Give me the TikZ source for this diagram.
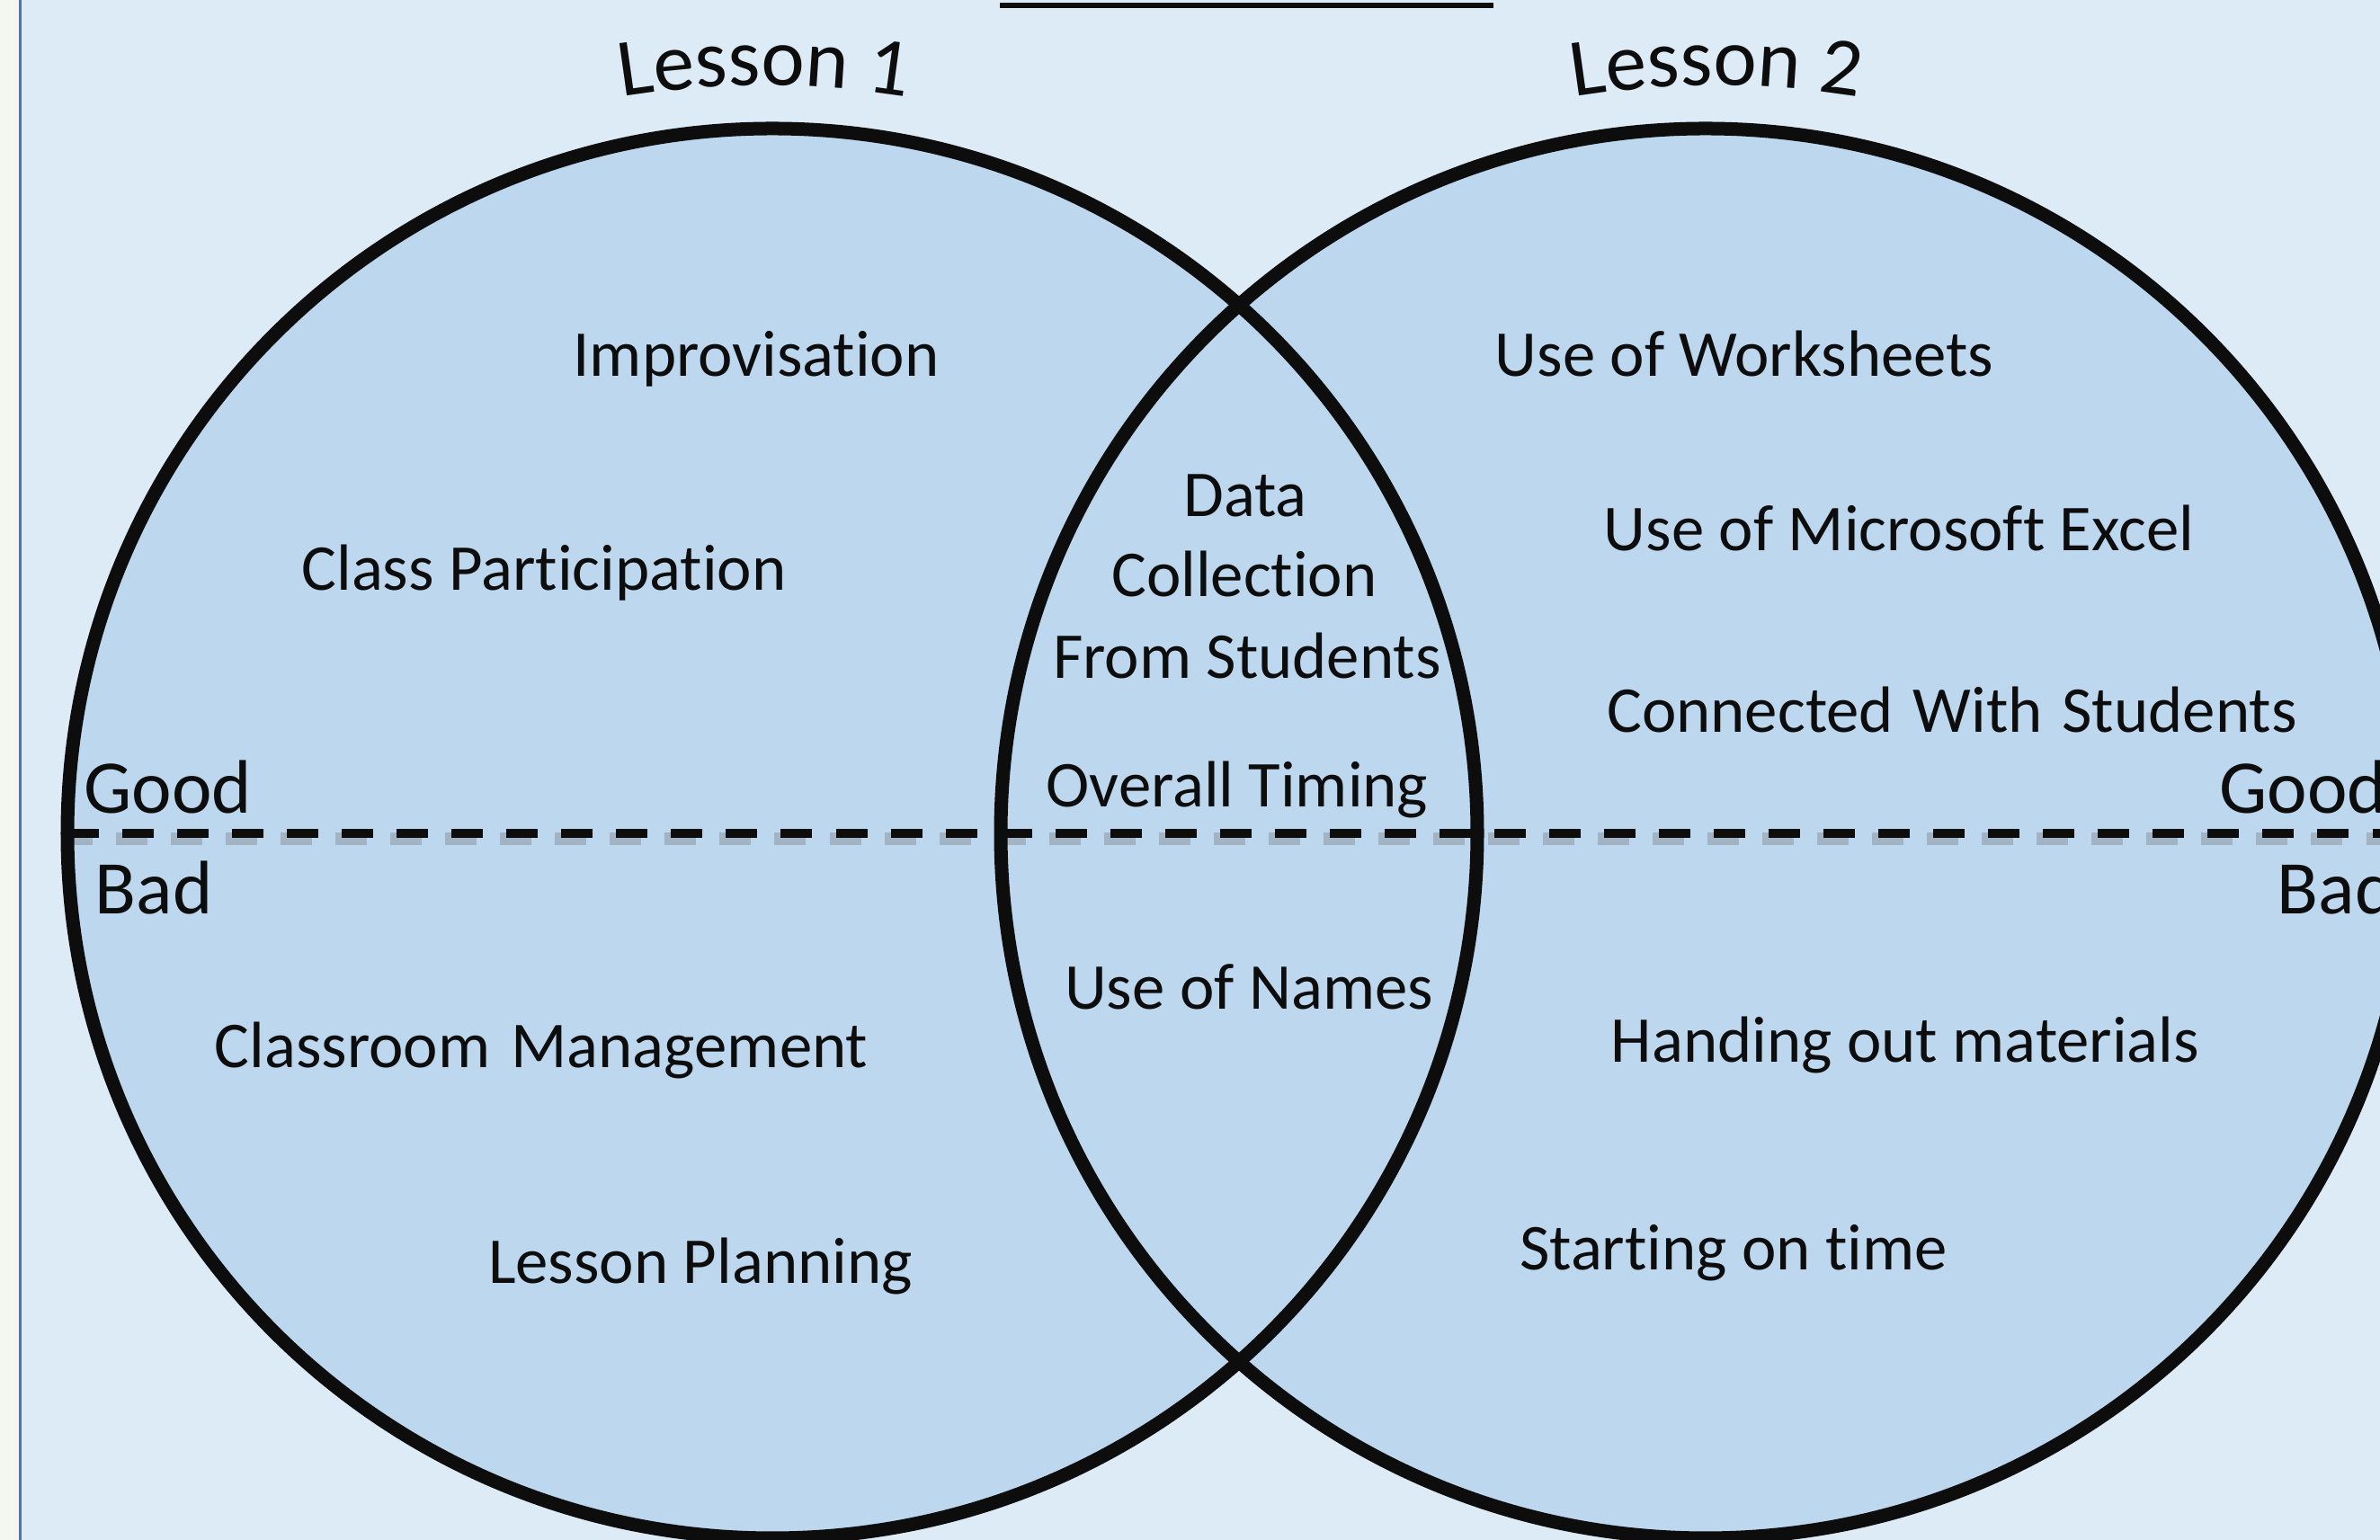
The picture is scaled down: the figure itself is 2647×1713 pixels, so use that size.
\documentclass[tikz,border=0pt]{standalone}
\usepackage{fontspec}
\setmainfont{Carlito}[Ligatures=CommonOff]
\usetikzlibrary{decorations.text}
\definecolor{bgblue}{RGB}{221,235,247}
\definecolor{circblue}{RGB}{189,215,238}
\definecolor{stripcol}{RGB}{243,247,239}
\definecolor{edgeblue}{RGB}{68,114,196}
\definecolor{ink}{RGB}{13,13,13}
\begin{document}
\begin{tikzpicture}[x=0.01cm,y=0.01cm,
  lbl/.style={inner sep=0pt, anchor=base, text=ink, font=\fontsize{20.7}{24}\selectfont},
  gb/.style={inner sep=0pt, anchor=base west, text=ink, font=\fontsize{24}{28}\selectfont},
  ring/.style={draw=ink, line width=0.15cm},
  dashline/.style={draw=ink, line width=0.1cm, dash pattern=on 0.35cm off 0.26cm},
  dashshadow/.style={draw=black!60, opacity=0.3, line width=0.14cm, dash pattern=on 0.35cm off 0.26cm}]
\useasboundingbox (0,0) rectangle (2647,1713);
\fill[bgblue] (0,0) rectangle (2647,1713);
\fill[stripcol] (0,0) rectangle (21,1713);
\fill[edgeblue] (21,0) rectangle (23.5,1713);
\coordinate (cL) at (859,786);
\coordinate (cR) at (1897,786);
\coordinate (dStart) at (75,786);
\coordinate (dEnd) at (2647,786);
\coordinate (sStart) at (68,780);
\coordinate (sEnd) at (2647,780);
\begin{scope}
\clip (23.5,0) rectangle (2647,1713);
\fill[circblue] (cL) circle[radius=784];
\fill[circblue] (cR) circle[radius=784];
\draw[dashshadow] (sStart) -- (sEnd);
\draw[dashline] (dStart) -- (dEnd);
\draw[ring] (cL) circle[radius=784];
\draw[ring] (cR) circle[radius=784];
\end{scope}
% title underline
\coordinate (tA) at (1112,1707);
\coordinate (tB) at (1661,1707);
\draw[ink, line width=0.065cm] (tA) -- (tB);
% arched headings
\path[decorate, decoration={text along path, text align=center,
  text={|\fontsize{26}{30}\selectfont\color{ink}|Lesson 1}}]
  (850,618) ++(110:1000) arc[start angle=110, end angle=70, radius=1000];
\path[decorate, decoration={text along path, text align=center,
  text={|\fontsize{26}{30}\selectfont\color{ink}|Lesson 2}}]
  (1909,618) ++(110:1000) arc[start angle=110, end angle=70, radius=1000];
% left circle
\node[lbl] (impro) at (841,1294) {Improvisation};
\node[lbl] (classp) at (605,1056) {Class Participation};
\node[gb] (goodL) at (93,808) {Good};
\node[gb] (badL) at (105,696) {Bad};
\node[lbl] (classm) at (602,525) {Classroom\hspace{2pt} Management};
\node[lbl] (lplan) at (779,285) {Lesson Planning};
% overlap
\node[lbl] (dataA) at (1385,1138) {Data};
\node[lbl] (dataB) at (1384,1049) {Collection};
\node[lbl] (dataC) at (1387,958) {From Students};
\node[lbl] (overall) at (1376,815) {Overall Timing};
\node[lbl] (names) at (1389,590) {Use of Names};
% right circle
\node[lbl] (works) at (1940,1294) {Use of Worksheets};
\node[lbl] (excel) at (2112,1100) {Use of Microsoft Excel};
\node[lbl] (conn) at (2171,898) {Connected\hspace{1.5pt} With\hspace{1.5pt} Students};
\node[gb] (goodR) at (2468,808) {Good};
\node[gb] (badR) at (2532,696) {Bad};
\node[lbl] (hand) at (2119,531) {Handing out materials};
\node[lbl] (start) at (1928,300) {Starting on time};
\end{tikzpicture}
\end{document}
